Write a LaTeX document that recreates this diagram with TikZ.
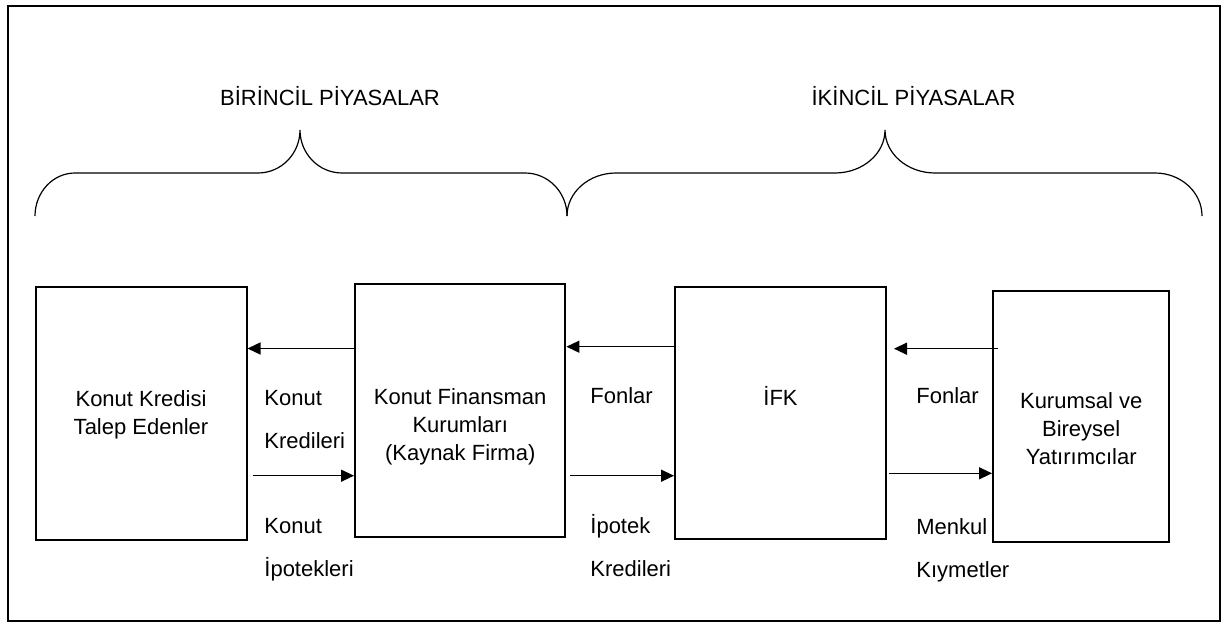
\documentclass[tikz,border=0pt]{standalone}
\usepackage{fontspec}
\setmainfont{Liberation Sans}
\usetikzlibrary{arrows.meta}
\tikzset{
  party/.style={
    draw,
    line width=1pt,
    inner sep=0pt
  },
  boxtext/.style={
    align=center,
    inner sep=0pt,
    anchor=base,
    font=\fontsize{11}{14}\selectfont
  },
  flowlabel/.style={
    align=left,
    inner sep=0pt,
    anchor=base west,
    font=\fontsize{11}{21.5}\selectfont
  },
  market/.style={
    inner sep=0pt,
    anchor=base,
    font=\fontsize{11}{13}\selectfont
  },
  brace/.style={
    line width=0.6pt
  },
  flow/.style={
    -{Triangle[length=6.5pt,width=6pt]},
    line width=0.7pt
  }
}

\begin{document}
\begin{tikzpicture}[x=0.5pt,y=0.5pt]
  \useasboundingbox (0,0) rectangle (1229,622);
  \draw[line width=1pt] (7.5,1) rectangle (1220,616);

  % markets
  \node[market] (birincil) at (330,516) {BİRİNCİL PİYASALAR};
  \node[market] (ikincil) at (913.5,516) {İKİNCİL PİYASALAR};

  \draw[brace] (35,406) arc[start angle=180, end angle=90, x radius=40, y radius=43]
    -- (258,449) arc[start angle=270, end angle=360, x radius=42, y radius=43]
    arc[start angle=180, end angle=270, x radius=42, y radius=43]
    -- (525,449) arc[start angle=90, end angle=0, x radius=42, y radius=43];
  \draw[brace] (567,406) arc[start angle=180, end angle=90, x radius=49, y radius=43]
    -- (835,449) arc[start angle=270, end angle=360, x radius=50, y radius=43]
    arc[start angle=180, end angle=270, x radius=50, y radius=43]
    -- (1155,449) arc[start angle=90, end angle=0, x radius=47, y radius=43];

  % boxes
  \node[party, minimum width=105.5pt, minimum height=126.5pt] (talep) at (141,209) {};
  \node[party, minimum width=105.2pt, minimum height=126.2pt] (kfk) at (460.2,211.5) {};
  \node[party, minimum width=105.5pt, minimum height=126.3pt] (ifk) at (780.5,209) {};
  \node[party, minimum width=88.2pt, minimum height=125.6pt] (yatirimci) at (1081.2,205.7) {};

  % base = last line
  \node[boxtext] (talepText) at (talep.center |- 0,188) {Konut Kredisi\\Talep Edenler};
  \node[boxtext] (kfkText) at (kfk.center |- 0,161.5) {Konut Finansman\\Kurumları\\(Kaynak Firma)};
  \node[boxtext] (ifkText) at (ifk.center |- 0,217) {İFK};
  \node[boxtext] (yatirimciText) at (yatirimci.center |- 0,158) {Kurumsal ve\\Bireysel\\Yatırımcılar};

  % flows
  \draw[flow] (kfk.west |- 0,273.5) -- (talep.east |- 0,273.5);
  \draw[flow] (ifk.west |- 0,275.3) -- (kfk.east |- 0,275.3);
  \draw[flow, shorten <=-3pt, shorten >=3.5pt] (yatirimci.west |- 0,273.3) -- (ifk.east |- 0,273.3);
  \draw[flow, shorten <=2.5pt] (talep.east |- 0,146.3) -- (kfk.west |- 0,146.3);
  \draw[flow, shorten <=2pt] (kfk.east |- 0,146.3) -- (ifk.west |- 0,146.3);
  \draw[flow, shorten <=1pt] (ifk.east |- 0,148.7) -- (yatirimci.west |- 0,148.7);

  \node[flowlabel] (krediler) at (264,174) {Konut\\Kredileri};
  \node[flowlabel] (ipotekler) at (264,46) {Konut\\İpotekleri};
  \node[flowlabel] (fonlarA) at (590,219) {Fonlar};
  \node[flowlabel] (ipotekKredi) at (590,46) {İpotek\\Kredileri};
  \node[flowlabel] (fonlarB) at (916,219) {Fonlar};
  \node[flowlabel] (menkul) at (916,45) {Menkul\\Kıymetler};
\end{tikzpicture}
\end{document}
